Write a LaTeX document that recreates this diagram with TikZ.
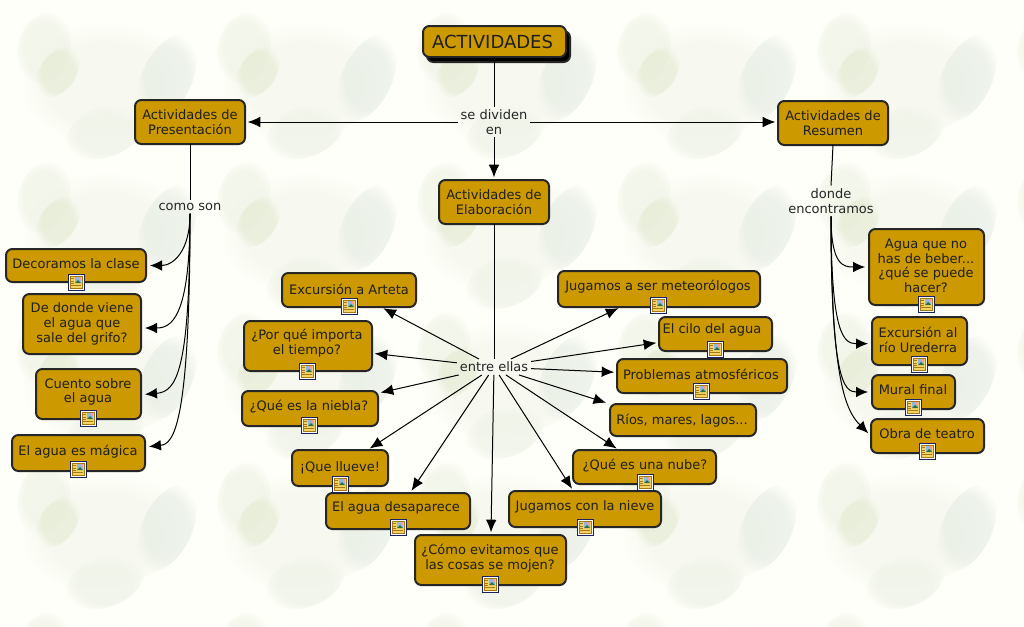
\documentclass[tikz,border=0pt]{standalone}
\usepackage{fontspec}
\setmainfont{DejaVu Sans}
\usetikzlibrary{arrows.meta,calc,fadings}
\definecolor{band}{HTML}{F4F4CC}
\definecolor{paper}{HTML}{FEFFF8}
\definecolor{leafa}{HTML}{EFF3E6}
\definecolor{leafb}{HTML}{E6ECD6}
\definecolor{leafc}{HTML}{F5F7EE}
\definecolor{leafd}{HTML}{E8EEE6}
\definecolor{leafe}{HTML}{EEF2E7}
\definecolor{gold}{HTML}{CC9900}
\definecolor{iconblue}{HTML}{1A2260}
\definecolor{iconyel}{HTML}{F2D468}
\definecolor{iconbrn}{HTML}{A87810}
\definecolor{sky}{HTML}{8FB8E0}
\definecolor{hill}{HTML}{2F6F3A}
\pgfdeclareradialshading{softedgeshade}{\pgfpointorigin}{color(0bp)=(pgftransparent!0); color(17bp)=(pgftransparent!0); color(25bp)=(pgftransparent!100); color(50bp)=(pgftransparent!100)}
\pgfdeclarefading{softedge}{\pgfuseshading{softedgeshade}}
\tikzfading[name=midv,left color=transparent!100,middle color=transparent!0,right color=transparent!100]
\tikzfading[name=midh,top color=transparent!100,middle color=transparent!0,bottom color=transparent!100]
\tikzset{
  mainbox/.style={draw=black!85,fill=gold,line width=1.5pt,rounded corners=4.8pt,outer sep=0pt,inner sep=0pt},
  boxtext/.style={font=\fontsize{9.75pt}{11pt}\selectfont,align=center,inner sep=0pt,text=black!88},
  linkword/.style={font=\fontsize{9.75pt}{11pt}\selectfont,align=center,inner xsep=2pt,inner ysep=2pt,text=black!85},
  iconbox/.style={draw=iconblue,fill=white,line width=0.75pt,minimum size=12pt,inner sep=0pt,outer sep=0pt},
  conn/.style={draw=black,line width=0.75pt},
  arr/.style={conn,-{Latex[length=9.5pt,width=8pt]},shorten >=2pt},
  curv/.style={conn,-{Latex[length=9pt,width=8pt]},shorten >=3pt},
  softleaf/.style={opacity=.7,path fading=softedge,fit fading=true}
}
\newcommand{\cbox}[8]{%
  \node[mainbox,minimum width={(#4-#2)*0.75pt},minimum height={(#5-#3)*0.75pt}] (#1) at ({(#2+#4)/2},{(#3+#5)/2}) {};
  \node[boxtext] (#1t) at (#6,#7+1) {#8};}
\newcommand{\icn}[3]{%
  \node[iconbox] (#1) at (#2,#3) {};
  \begin{scope}[shift={(#2,#3)}]
    \fill[iconyel] (-6,-6) rectangle (6,6);
    \draw[iconbrn,line width=0.5pt] (-6,-6) rectangle (6,6);
    \fill[sky] (-1,-5) rectangle (5,1);
    \fill[hill] (-1,1) -- (2,-2) -- (5,1) -- cycle;
    \fill[red!40] (2.5,-5) rectangle (5,-2.5);
    \draw[iconbrn,line width=0.6pt] (-5,-3.5) -- (-2,-3.5) (-5,-1) -- (-2,-1) (-5,1.5) -- (-2,1.5) (-5,3.5) -- (5,3.5);
  \end{scope}}
\begin{document}
\begin{tikzpicture}[x=0.75pt,y=-0.75pt]
\useasboundingbox (0,0) rectangle (1024,626);
\begin{scope}
\clip (0,0) rectangle (1024,626);
\fill[paper] (0,0) rectangle (1024,626);
\foreach \i in {0,...,5}\foreach \j in {0,...,4}{
  \begin{scope}[shift={(\i*200,\j*150)}]
    \fill[leafc,softleaf,rotate around={10:(105,80)}] (105,80) ellipse (82 and 58);
    \fill[leafa,softleaf,rotate around={-15:(44,48)}] (44,48) ellipse (26 and 36);
    \fill[leafb,softleaf,rotate around={-35:(58,72)}] (58,72) ellipse (18 and 28);
    \fill[leafd,softleaf,rotate around={-25:(167,78)}] (167,78) ellipse (25 and 46);
    \fill[leafe,softleaf,rotate around={20:(105,132)}] (105,132) ellipse (40 and 25);
  \end{scope}}
\foreach \i in {0,...,5}{
  \fill[band,path fading=midv,fit fading=true] (\i*200-8,0) rectangle (\i*200+24,626);}
\foreach \j in {0,...,4}{
  \fill[band,path fading=midh,fit fading=true] (0,\j*150-10) rectangle (1024,\j*150+18);}
\end{scope}

\node[mainbox,fill=black,minimum width={143*0.75pt},minimum height={31*0.75pt}] (actshadow) at (498.5,46.5) {};
\cbox{act}{423}{26}{566}{57}{492.5}{41}{\fontsize{13.5pt}{15pt}\selectfont ACTIVIDADES}
\cbox{pres}{135}{100}{245}{144}{190}{121}{Actividades de\\Presentación}
\cbox{elab}{439}{180}{549}{224}{494}{201}{Actividades de\\Elaboración}
\cbox{res}{778}{101}{888}{145}{833}{122}{Actividades de\\Resumen}

\cbox{dec}{6}{249}{146}{282}{76}{263}{Decoramos la clase}
\cbox{don}{23}{294}{141}{354}{82}{323}{De donde viene\\el agua que\\sale del grifo?}
\cbox{cue}{36}{369}{141}{419}{88}{391}{Cuento sobre\\el agua}
\cbox{mag}{12}{435}{145}{471}{78}{451}{El agua es mágica}

\cbox{beb}{869}{229}{984}{305}{926}{265}{Agua que no\\has de beber...\\¿qué se puede\\hacer?}
\cbox{ure}{872}{317}{967}{365}{918}{339}{Excursión al\\río Urederra}
\cbox{mur}{872}{375}{955}{409}{913}{389}{Mural final}
\cbox{tea}{871}{419}{984}{453}{927}{433}{Obra de teatro}

\cbox{art}{282}{273}{416}{307}{349}{288}{Excursión a Arteta}
\cbox{imp}{244}{321}{372}{371}{307}{342}{¿Por qué importa\\el tiempo?}
\cbox{nie}{242}{391}{378}{426}{309}{406}{¿Qué es la niebla?}
\cbox{llu}{292}{450}{388}{486}{340}{467}{¡Que llueve!}
\cbox{des}{326}{493}{470}{529}{396}{507}{El agua desaparece}
\cbox{moj}{415}{535}{566}{585}{490}{557}{¿Cómo evitamos que\\las cosas se mojen?}
\cbox{nev}{509}{491}{661}{527}{585}{506}{Jugamos con la nieve}
\cbox{nub}{573}{450}{716}{484}{645}{465}{¿Qué es una nube?}
\cbox{rio}{610}{404}{756}{436}{682}{420}{Ríos, mares, lagos...}
\cbox{pro}{617}{359}{787}{393}{701}{373}{Problemas atmosféricos}
\cbox{cil}{659}{317}{772}{351}{712}{329}{El cilo del agua}
\cbox{met}{558}{271}{760}{307}{658}{286}{Jugamos a ser meteorólogos}

\node[linkword] (sd) at (494,122) {se dividen\\en};
\node[linkword] (cs) at (190,207) {como son};
\node[linkword] (de) at (831,201) {donde\\encontramos};
\node[linkword] (ee) at (494,367) {entre ellas};

\draw[conn] (act.south -| sd.north) -- (sd.north);
\draw[arr] (sd.west) -- (pres.east);
\draw[arr] (sd.east) -- (res.west |- sd.east);
\draw[arr] (sd.south) -- (elab.north -| sd.south);
\draw[conn] (pres.south) -- (cs.north);
\draw[conn] (res.south) -- (de.north);
\draw[conn] (elab.south) -- (ee.north);

\draw[curv] (cs.south) .. controls +(0,38) and +(27,0) .. (dec.east);
\draw[curv] (cs.south) .. controls +(0,105) and +(30,0) .. ([yshift=-3pt]don.east);
\draw[curv] (cs.south) .. controls +(0,160) and +(35,-3) .. ([yshift=-0.5pt]cue.east);
\draw[curv] (cs.south) .. controls +(0,215) and +(28,-3) .. ([yshift=4.5pt]mag.east);

\draw[curv] (de.south) .. controls +(0,50) and +(-25,0) .. (beb.west);
\draw[curv] (de.south) .. controls +(0,120) and +(-28,0) .. ([yshift=-2pt]ure.west);
\draw[curv] (de.south) .. controls +(0,165) and +(-28,0) .. (mur.west);
\draw[curv] (de.south) .. controls +(0,165) and +(-25,-25) .. (tea.west);

\foreach \n in {art,imp,nie,llu,des,moj,nev,nub,pro,cil,met}{
  \draw[arr] (ee) -- (\n);}
\draw[arr,shorten >=3pt] (ee) -- (rio.north west);

\icn{i1}{76}{282}
\icn{i2}{88}{418}
\icn{i3}{78}{469}
\icn{i4}{926}{304}
\icn{i5}{919}{364}
\icn{i6}{913}{407}
\icn{i7}{927}{451}
\icn{i8}{349}{306}
\icn{i9}{307}{371}
\icn{i10}{309}{425}
\icn{i11}{340}{484}
\icn{i12}{398}{527}
\icn{i13}{490}{584}
\icn{i14}{585}{527}
\icn{i15}{645}{482}
\icn{i16}{701}{391}
\icn{i17}{715}{349}
\icn{i18}{658}{305}
\end{tikzpicture}
\end{document}
